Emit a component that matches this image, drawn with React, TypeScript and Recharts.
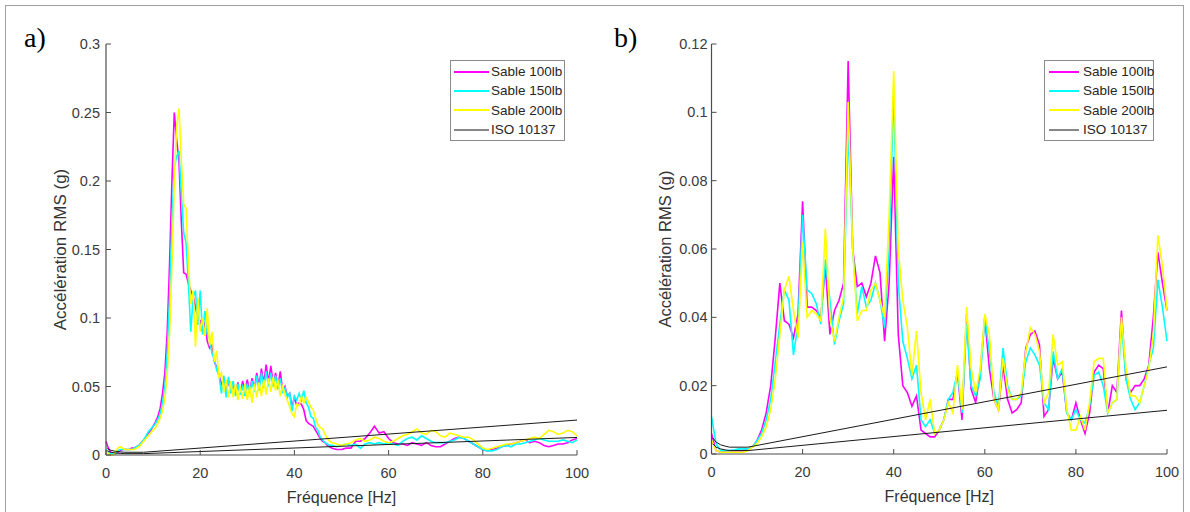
import React from "react";
import { LineChart, Line, XAxis, YAxis, Legend, Label } from "recharts";

const FONT = '"Liberation Sans", Arial, Helvetica, sans-serif';
const MAGENTA = "#ff00ff";
const CYAN = "#00ffff";
const YELLOW = "#ffff00";
const AXIS = "#4d4d4d";

// ---- panel a) : 0.5 Hz up to 48 Hz, then 1 Hz ----
const freqA = [
  0, 0.5, 1, 1.5, 2, 2.5, 3, 3.5, 4, 4.5, 5, 5.5, 6, 6.5, 7, 7.5, 8, 8.5, 9, 9.5,
  10, 10.5, 11, 11.5, 12, 12.5, 13, 13.5, 14, 14.5, 15, 15.5, 16, 16.5, 17, 17.5, 18, 18.5, 19, 19.5,
  20, 20.5, 21, 21.5, 22, 22.5, 23, 23.5, 24, 24.5, 25, 25.5, 26, 26.5, 27, 27.5, 28, 28.5, 29, 29.5,
  30, 30.5, 31, 31.5, 32, 32.5, 33, 33.5, 34, 34.5, 35, 35.5, 36, 36.5, 37, 37.5, 38, 38.5, 39, 39.5,
  40, 40.5, 41, 41.5, 42, 42.5, 43, 43.5, 44, 44.5, 45, 45.5, 46, 46.5, 47, 47.5, 48,
  49, 50, 51, 52, 53, 54, 55, 56, 57, 58, 59, 60, 61, 62, 63, 64, 65, 66, 67, 68,
  69, 70, 71, 72, 73, 74, 75, 76, 77, 78, 79, 80, 81, 82, 83, 84, 85, 86, 87, 88,
  89, 90, 91, 92, 93, 94, 95, 96, 97, 98, 99, 100,
];

const sable100A = [
  0.010, 0.005, 0.002, 0.001, 0.001, 0.002, 0.003, 0.004, 0.004, 0.004,
  0.004, 0.005, 0.005, 0.006, 0.007, 0.009, 0.011, 0.013, 0.016, 0.018,
  0.021, 0.024, 0.028, 0.034, 0.045, 0.060, 0.090, 0.140, 0.200, 0.250,
  0.230, 0.214, 0.170, 0.133, 0.132, 0.125, 0.120, 0.116, 0.108, 0.100,
  0.098, 0.090, 0.097, 0.083, 0.078, 0.080, 0.068, 0.064, 0.058, 0.052,
  0.056, 0.048, 0.054, 0.046, 0.052, 0.045, 0.053, 0.044, 0.054, 0.047,
  0.055, 0.046, 0.056, 0.048, 0.060, 0.050, 0.063, 0.052, 0.066, 0.053,
  0.065, 0.052, 0.060, 0.050, 0.061, 0.047, 0.050, 0.043, 0.045, 0.035,
  0.042, 0.036, 0.038, 0.037, 0.033, 0.025, 0.023, 0.022, 0.021, 0.018,
  0.015, 0.012, 0.010, 0.009, 0.007, 0.006, 0.005,
  0.004, 0.004, 0.005, 0.005, 0.010, 0.010, 0.012, 0.016, 0.021, 0.016,
  0.017, 0.012, 0.009, 0.008, 0.008, 0.007, 0.009, 0.008, 0.007, 0.009,
  0.007, 0.006, 0.006, 0.008, 0.010, 0.012, 0.013, 0.012, 0.010, 0.008,
  0.006, 0.004, 0.003, 0.004, 0.005, 0.006, 0.007, 0.008, 0.009, 0.010,
  0.011, 0.009, 0.010, 0.009, 0.007, 0.006, 0.007, 0.008, 0.008, 0.009,
  0.011, 0.012,
];

const sable150A = [
  0.004, 0.002, 0.001, 0.001, 0.001, 0.003, 0.004, 0.004, 0.004, 0.004,
  0.004, 0.004, 0.005, 0.006, 0.007, 0.009, 0.011, 0.014, 0.017, 0.019,
  0.021, 0.023, 0.026, 0.030, 0.038, 0.050, 0.075, 0.115, 0.170, 0.210,
  0.218, 0.222, 0.190, 0.162, 0.155, 0.125, 0.090, 0.115, 0.120, 0.095,
  0.120, 0.088, 0.105, 0.088, 0.085, 0.074, 0.070, 0.062, 0.058, 0.045,
  0.058, 0.042, 0.057, 0.045, 0.054, 0.043, 0.052, 0.044, 0.050, 0.043,
  0.052, 0.045, 0.054, 0.046, 0.058, 0.047, 0.060, 0.049, 0.061, 0.050,
  0.060, 0.050, 0.058, 0.048, 0.056, 0.046, 0.049, 0.042, 0.045, 0.032,
  0.043, 0.040, 0.045, 0.040, 0.047, 0.038, 0.035, 0.028, 0.027, 0.020,
  0.018, 0.013, 0.011, 0.009, 0.008, 0.007, 0.007,
  0.006, 0.007, 0.008, 0.007, 0.008, 0.005, 0.008, 0.009, 0.008, 0.009,
  0.008, 0.009, 0.008, 0.007, 0.010, 0.012, 0.013, 0.011, 0.014, 0.012,
  0.010, 0.009, 0.009, 0.009, 0.010, 0.011, 0.013, 0.012, 0.010, 0.008,
  0.006, 0.004, 0.003, 0.003, 0.004, 0.006, 0.007, 0.006, 0.008, 0.008,
  0.009, 0.010, 0.011, 0.012, 0.011, 0.010, 0.010, 0.010, 0.011, 0.010,
  0.009, 0.011,
];

const sable200A = [
  0.003, 0.001, 0.000, 0.000, 0.002, 0.005, 0.006, 0.005, 0.004, 0.004,
  0.004, 0.004, 0.004, 0.005, 0.006, 0.008, 0.010, 0.012, 0.014, 0.016,
  0.018, 0.020, 0.023, 0.027, 0.032, 0.042, 0.060, 0.090, 0.140, 0.200,
  0.240, 0.253, 0.215, 0.183, 0.180, 0.140, 0.110, 0.120, 0.079, 0.115,
  0.090, 0.100, 0.087, 0.107, 0.080, 0.090, 0.068, 0.076, 0.056, 0.060,
  0.046, 0.055, 0.042, 0.054, 0.042, 0.052, 0.040, 0.050, 0.041, 0.052,
  0.040, 0.050, 0.038, 0.052, 0.042, 0.053, 0.043, 0.055, 0.044, 0.056,
  0.046, 0.057, 0.047, 0.055, 0.043, 0.050, 0.044, 0.040, 0.035, 0.030,
  0.028, 0.037, 0.036, 0.043, 0.038, 0.042, 0.039, 0.035, 0.033, 0.027,
  0.022, 0.020, 0.019, 0.015, 0.012, 0.010, 0.009,
  0.008, 0.007, 0.008, 0.009, 0.011, 0.012, 0.010, 0.011, 0.013, 0.012,
  0.010, 0.009, 0.010, 0.012, 0.014, 0.015, 0.017, 0.019, 0.016, 0.015,
  0.018, 0.017, 0.014, 0.013, 0.016, 0.015, 0.014, 0.013, 0.013, 0.011,
  0.008, 0.005, 0.004, 0.005, 0.006, 0.007, 0.008, 0.008, 0.009, 0.010,
  0.011, 0.012, 0.013, 0.012, 0.015, 0.018, 0.017, 0.015, 0.016, 0.018,
  0.017, 0.014,
];

// ---- panel b) : 1 Hz ----
const freqB = [
  0, 1, 2, 3, 4, 5, 6, 7, 8, 9, 10, 11, 12, 13, 14, 15, 16, 17, 18, 19,
  20, 21, 22, 23, 24, 25, 26, 27, 28, 29, 30, 31, 32, 33, 34, 35, 36, 37, 38, 39,
  40, 41, 42, 43, 44, 45, 46, 47, 48, 49, 50, 51, 52, 53, 54, 55, 56, 57, 58, 59,
  60, 61, 62, 63, 64, 65, 66, 67, 68, 69, 70, 71, 72, 73, 74, 75, 76, 77, 78, 79,
  80, 81, 82, 83, 84, 85, 86, 87, 88, 89, 90, 91, 92, 93, 94, 95, 96, 97, 98, 99, 100,
];

const sable100B = [
  0.006, 0.001, 0.0005, 0.0008, 0.001, 0.001, 0.001, 0.001, 0.0015, 0.002,
  0.004, 0.007, 0.012, 0.020, 0.034, 0.050, 0.039, 0.038, 0.034, 0.041,
  0.074, 0.043, 0.043, 0.042, 0.040, 0.055, 0.035, 0.042, 0.045, 0.050,
  0.115, 0.060, 0.049, 0.050, 0.046, 0.050, 0.058, 0.053, 0.033, 0.050,
  0.087, 0.035, 0.020, 0.018, 0.014, 0.017, 0.007, 0.006, 0.005, 0.005,
  0.007, 0.010, 0.016, 0.016, 0.024, 0.010, 0.041, 0.019, 0.015, 0.024,
  0.040, 0.025, 0.016, 0.013, 0.026, 0.016, 0.012, 0.013, 0.015, 0.031,
  0.035, 0.036, 0.032, 0.011, 0.013, 0.028, 0.022, 0.024, 0.012, 0.010,
  0.015, 0.010, 0.006, 0.012, 0.024, 0.026, 0.025, 0.012, 0.020, 0.018,
  0.042, 0.022, 0.018, 0.020, 0.020, 0.022, 0.026, 0.040, 0.059, 0.050,
  0.042,
];

const sable150B = [
  0.011, 0.003, 0.001, 0.001, 0.001, 0.0012, 0.0015, 0.0015, 0.0015, 0.002,
  0.004, 0.006, 0.010, 0.016, 0.027, 0.038, 0.048, 0.045, 0.029, 0.038,
  0.070, 0.048, 0.047, 0.044, 0.038, 0.057, 0.045, 0.032, 0.039, 0.044,
  0.095, 0.060, 0.041, 0.049, 0.043, 0.045, 0.050, 0.045, 0.037, 0.060,
  0.107, 0.050, 0.033, 0.028, 0.022, 0.026, 0.010, 0.008, 0.010, 0.006,
  0.007, 0.010, 0.016, 0.018, 0.024, 0.012, 0.038, 0.020, 0.017, 0.022,
  0.040, 0.030, 0.018, 0.014, 0.031, 0.020, 0.016, 0.016, 0.017, 0.027,
  0.031, 0.029, 0.026, 0.015, 0.013, 0.030, 0.022, 0.025, 0.012, 0.010,
  0.013, 0.010, 0.009, 0.014, 0.023, 0.024, 0.020, 0.012, 0.015, 0.016,
  0.038, 0.022, 0.016, 0.013, 0.015, 0.020, 0.026, 0.031, 0.051, 0.043,
  0.033,
];

const sable200B = [
  0.004, 0.001, 0.0005, 0.0005, 0.0005, 0.0005, 0.0005, 0.0005, 0.001, 0.002,
  0.003, 0.005, 0.008, 0.013, 0.022, 0.035, 0.048, 0.052, 0.042, 0.034,
  0.062, 0.040, 0.042, 0.041, 0.039, 0.066, 0.040, 0.033, 0.040, 0.046,
  0.103, 0.060, 0.039, 0.042, 0.042, 0.048, 0.050, 0.045, 0.040, 0.070,
  0.112, 0.060, 0.045, 0.037, 0.023, 0.036, 0.018, 0.010, 0.016, 0.006,
  0.007, 0.010, 0.015, 0.012, 0.026, 0.013, 0.043, 0.025, 0.018, 0.025,
  0.041, 0.035, 0.016, 0.013, 0.028, 0.019, 0.016, 0.016, 0.018, 0.030,
  0.037, 0.035, 0.030, 0.015, 0.018, 0.035, 0.026, 0.027, 0.013, 0.007,
  0.007, 0.011, 0.007, 0.015, 0.027, 0.028, 0.028, 0.012, 0.015, 0.016,
  0.040, 0.025, 0.017, 0.017, 0.015, 0.020, 0.025, 0.035, 0.064, 0.055,
  0.042,
];

// ISO 10137 base curves (two multipliers)
const isoFreq = [0.3, 1, 2, 3, 4, 8, 100];
const isoUpper = [0.0047, 0.0035, 0.0027, 0.0023, 0.002, 0.002, 0.0255];
const isoLower = [0.003, 0.002, 0.0015, 0.0012, 0.001, 0.001, 0.0128];

const xTicks = [0, 20, 40, 60, 80, 100];
const yTicksA = [0, 0.05, 0.1, 0.15, 0.2, 0.25, 0.3];
const yTicksB = [0, 0.02, 0.04, 0.06, 0.08, 0.1, 0.12];

const legendItems = [
  { name: "Sable 100lb", color: MAGENTA, width: 2 },
  { name: "Sable 150lb", color: CYAN, width: 2 },
  { name: "Sable 200lb", color: YELLOW, width: 2 },
  { name: "ISO 10137", color: "#111", width: 1 },
];

const isoRows = isoFreq.map((f, i) => ({ f, hi: isoUpper[i], lo: isoLower[i] }));

const LegendBox = ({ lineLen, inset, gap, boxWidth }: any) => (
  <div
    style={{
      width: boxWidth,
      boxSizing: "border-box",
      border: "1px solid #8c8c8c",
      background: "#fff",
      padding: "1px 0",
      fontFamily: FONT,
      fontSize: 13.5,
      color: "#262626",
    }}
  >
    {legendItems.map((it) => (
      <div
        key={it.name}
        style={{ display: "flex", alignItems: "center", height: 19.3, paddingLeft: inset }}
      >
        <svg width={lineLen} height={4} style={{ flex: "none" }}>
          <line x1={0} y1={2} x2={lineLen} y2={2} stroke={it.color} strokeWidth={it.width} />
        </svg>
        <span style={{ marginLeft: gap, whiteSpace: "nowrap" }}>{it.name}</span>
      </div>
    ))}
  </div>
);

function Panel(props: any) {
  const {
    left, width, margin, freq, s100, s150, s200, yMax, yTicks, yTickMargin,
    labelDx, labelSize, legendPos, legend, letter,
  } = props;
  const rows = freq.map((f: number, i: number) => ({ f, m: s100[i], c: s150[i], y: s200[i] }));
  return (
    <div style={{ position: "absolute", left, top: 0 }}>
      <LineChart width={width} height={512} margin={margin}>
        <XAxis
          dataKey="f"
          type="number"
          domain={[0, 100]}
          ticks={xTicks}
          interval={0}
          height={40}
          tickSize={-5}
          tickMargin={18}
          axisLine={{ stroke: AXIS, strokeWidth: 1.2 }}
          tickLine={{ stroke: AXIS }}
          tick={{ fill: "#3a3a3a", fontSize: 14.5, fontFamily: FONT }}
        >
          <Label
            content={({ viewBox }: any) => (
              <text
                x={viewBox.x + viewBox.width / 2}
                y={viewBox.y + 48}
                textAnchor="middle"
                fontFamily={FONT}
                fontSize={16}
                fill="#333"
              >
                Fréquence [Hz]
              </text>
            )}
          />
        </XAxis>
        <YAxis
          type="number"
          domain={[0, yMax]}
          ticks={yTicks}
          interval={0}
          width={60}
          tickSize={-5}
          tickMargin={yTickMargin}
          tickFormatter={(v: number) => String(v)}
          axisLine={{ stroke: AXIS, strokeWidth: 1.2 }}
          tickLine={{ stroke: AXIS }}
          tick={{ fill: "#3a3a3a", fontSize: 14.5, fontFamily: FONT }}
        >
          <Label
            content={({ viewBox }: any) => {
              const cx = viewBox.x + labelDx;
              const cy = viewBox.y + viewBox.height / 2;
              return (
                <text
                  x={cx}
                  y={cy}
                  transform={`rotate(-90 ${cx} ${cy})`}
                  textAnchor="middle"
                  dominantBaseline="central"
                  fontFamily={FONT}
                  fontSize={labelSize}
                  fill="#333"
                >
                  Accélération RMS (g)
                </text>
              );
            }}
          />
        </YAxis>
        <Legend
          layout="vertical"
          align="center"
          verticalAlign="middle"
          wrapperStyle={{ left: legendPos.x, top: legendPos.y, width: legend.boxWidth }}
          content={() => <LegendBox {...legend} />}
        />
        <Line data={rows} dataKey="m" stroke={MAGENTA} strokeWidth={1.6} dot={false} type="linear" isAnimationActive={false} />
        <Line data={rows} dataKey="c" stroke={CYAN} strokeWidth={1.6} dot={false} type="linear" isAnimationActive={false} />
        <Line data={rows} dataKey="y" stroke={YELLOW} strokeWidth={1.6} dot={false} type="linear" isAnimationActive={false} />
        <Line data={isoRows} dataKey="hi" stroke="#1a1a1a" strokeWidth={1} dot={false} type="linear" isAnimationActive={false} />
        <Line data={isoRows} dataKey="lo" stroke="#1a1a1a" strokeWidth={1} dot={false} type="linear" isAnimationActive={false} />
      </LineChart>
      <div
        style={{
          position: "absolute",
          left: letter.x,
          top: letter.y,
          fontFamily: '"Liberation Serif", "Times New Roman", serif',
          fontSize: 28,
          lineHeight: "28px",
          color: "#000",
        }}
      >
        {letter.text}
      </div>
    </div>
  );
}

export default function App() {
  return (
    <div
      style={{
        position: "absolute",
        left: 0,
        top: 0,
        width: 1190,
        height: 512,
        overflow: "hidden",
        background: "#fff",
      }}
    >
      <div
        style={{
          position: "absolute",
          left: 5,
          top: 5,
          width: 1177,
          height: 520,
          border: "1px solid #a0a0a0",
        }}
      />
      <Panel
        left={0}
        width={600}
        margin={{ top: 44, right: 23, bottom: 17, left: 46 }}
        freq={freqA}
        s100={sable100A}
        s150={sable150A}
        s200={sable200A}
        yMax={0.3}
        yTicks={yTicksA}
        yTickMargin={11}
        labelDx={14}
        labelSize={17}
        legendPos={{ x: 450, y: 60 }}
        legend={{ lineLen: 35, inset: 3, gap: 2, boxWidth: 115 }}
        letter={{ text: "a)", x: 24, y: 24 }}
      />
      <Panel
        left={595}
        width={595}
        margin={{ top: 44, right: 23, bottom: 18, left: 56.5 }}
        freq={freqB}
        s100={sable100B}
        s150={sable150B}
        s200={sable200B}
        yMax={0.12}
        yTicks={yTicksB}
        yTickMargin={9}
        labelDx={13.5}
        labelSize={16.5}
        legendPos={{ x: 449, y: 60 }}
        legend={{ lineLen: 30, inset: 4, gap: 4, boxWidth: 110 }}
        letter={{ text: "b)", x: 19, y: 24 }}
      />
    </div>
  );
}
